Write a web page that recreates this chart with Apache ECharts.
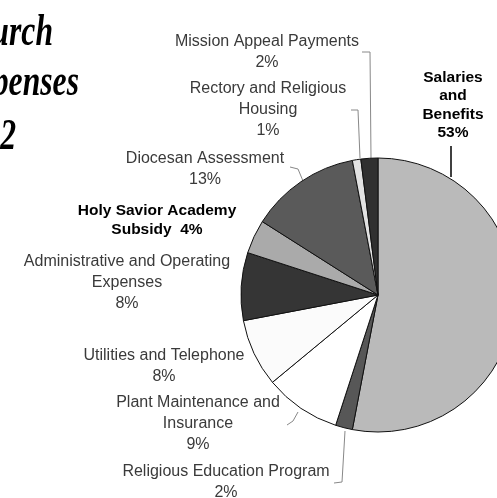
<!DOCTYPE html>
<html lang="en">
<head>
  <meta charset="UTF-8">
  <title>Church Expenses</title>
  <script src="https://cdn.jsdelivr.net/npm/echarts@6/dist/echarts.min.js"></script>
  <style>
    html, body { margin: 0; padding: 0; background: #fff; }
  </style>
</head>
<body>
  <div id="container" style="width: 497px;height:498px;"></div>
  <script>
    // categories in clockwise order, starting at 12 o'clock
    var categories = [
      'Salaries and Benefits',
      'Religious Education Program',
      'Plant Maintenance and Insurance',
      'Utilities and Telephone',
      'Administrative and Operating Expenses',
      'Holy Savior Academy Subsidy',
      'Diocesan Assessment',
      'Rectory and Religious Housing',
      'Mission Appeal Payments'
    ];
    var percents = [53, 2, 9, 8, 8, 4, 13, 1, 2];
    // how each label is broken into lines
    var labelLines = [
      ['Salaries', 'and', 'Benefits'],
      ['Religious Education Program'],
      ['Plant Maintenance and', 'Insurance'],
      ['Utilities and Telephone'],
      ['Administrative and Operating', 'Expenses'],
      ['Holy Savior Academy', 'Subsidy '],
      ['Diocesan Assessment'],
      ['Rectory and Religious', 'Housing'],
      ['Mission Appeal Payments']
    ];
    var boldLabels = [true, false, false, false, false, true, false, false, false];

    var sliceColors = ['#bababa', '#575757', '#ffffff', '#fbfbfb', '#353535', '#aaaaaa', '#5a5a5a', '#e2e2e2', '#303030'];

    // label block centres and leader lines (null = no line)
    var labelPos = [
      [453, 105], [226, 482], [198, 424], [164, 366], [127, 283],
      [157, 220], [205, 169], [268, 110], [267, 52]
    ];
    var leaders = [
      [[451, 146], [451, 160], [451, 177]],
      [[334, 483], [342, 482], [345, 431]],
      [[287, 425], [293, 421], [298, 412]],
      null, null, null,
      [[290, 167], [298, 169], [303, 181]],
      [[351, 110], [358, 110], [360, 158]],
      [[362, 52], [370, 52], [371, 158]]
    ];

    var myChart = echarts.init(document.getElementById('container'));

    var data = categories.map(function (name, i) {
      return {
        name: name,
        value: percents[i],
        itemStyle: { color: sliceColors[i] },
        label: boldLabels[i]
          ? { fontWeight: 'bold', color: '#000', fontSize: 15.5, lineHeight: 18.5 }
          : { fontWeight: 'normal', color: '#3a3a3a', fontSize: 16, lineHeight: 21 },
        labelLine: leaders[i]
          ? { show: true, lineStyle: { color: i === 0 ? '#000' : '#888', width: i === 0 ? 1.5 : 1 } }
          : { show: false }
      };
    });

    // script-like title, squeezed horizontally (cut off at the left edge as in the original)
    var titleFont = 'italic bold 44px "Liberation Serif"';
    function titleLine(text, rightX, topY) {
      return {
        type: 'text', x: rightX, y: topY, scaleX: 0.72,
        style: { text: text, font: titleFont, fill: '#000', align: 'right', verticalAlign: 'top' }
      };
    }

    myChart.setOption({
      backgroundColor: '#fff',
      animation: false,
      textStyle: { fontFamily: 'Liberation Sans, Arial, sans-serif' },
      graphic: [
        titleLine('Church', 53, 12),
        titleLine('Expenses', 79, 62),
        titleLine('2012', 16, 116)
      ],
      series: [
        {
          type: 'pie',
          center: [378, 295],
          radius: 137,
          startAngle: 90,
          clockwise: true,
          avoidLabelOverlap: false,
          itemStyle: { borderColor: '#111', borderWidth: 1 },
          label: {
            show: true,
            position: 'outside',
            formatter: function (p) {
              var lines = labelLines[p.dataIndex].slice();
              if (p.dataIndex === 5) {
                lines[lines.length - 1] += ' ' + p.value + '%';
              } else {
                lines.push(p.value + '%');
              }
              return lines.join('\n');
            }
          },
          labelLine: { show: true },
          labelLayout: function (params) {
            var i = params.dataIndex;
            var out = {
              x: labelPos[i][0],
              y: labelPos[i][1],
              align: 'center',
              verticalAlign: 'middle'
            };
            if (leaders[i]) out.labelLinePoints = leaders[i];
            return out;
          },
          emphasis: { disabled: true },
          data: data
        }
      ]
    });
  </script>
</body>
</html>
